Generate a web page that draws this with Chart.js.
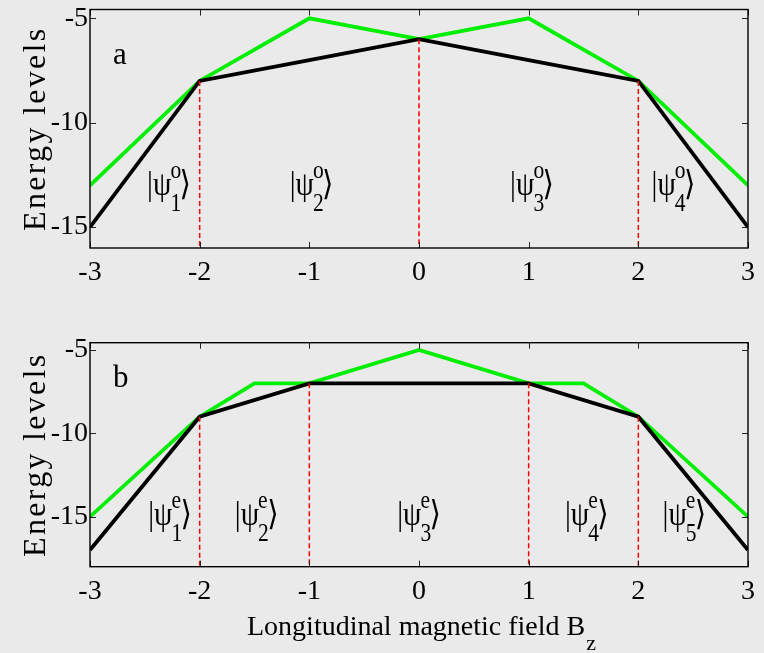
<!DOCTYPE html>
<html><head><meta charset="utf-8">
<script src="https://cdn.jsdelivr.net/npm/chart.js@4.4.1/dist/chart.umd.min.js"></script>
<style>
html,body{margin:0;padding:0;background:#eaeaea;}
#wrap{position:relative;width:764px;height:653px;overflow:hidden;background:#eaeaea;}
canvas{position:absolute;left:0;}
#ca{top:0;} #cb{top:320px;}
</style></head><body>
<div id="wrap">
<canvas id="ca" width="764" height="320"></canvas>
<canvas id="cb" width="764" height="333"></canvas>
</div>
<script>
// ---- data ----
const xTicks = [-3, -2, -1, 0, 1, 2, 3];
const yTicks = [-5, -10, -15];

// panel a (odd states)
const aX = [-3, -2, -1, 0, 1, 2, 3];
const aBlack = [-15, -8, -7, -6, -7, -8, -15];
const aGreen = [-13, -8, -5, -6, -5, -8, -13];
const aBoundX = [-2, 0, 2];
const aBoundTop = [-8, -6, -8];
const aStateX = [-2.28, -0.98, 1.03, 2.32];
const aStateSub = ['1', '2', '3', '4'];
const aStateSup = 'o';
const aStateY = -13.45;

// panel b (even states)
const bX = [-3, -2, -1, 0, 1, 2, 3];
const bBlack = [-17, -9, -7, -7, -7, -9, -17];
const bGreenX = [-3, -2, -1.5, -1, 0, 1, 1.5, 2, 3];
const bGreen = [-15, -9, -7, -7, -5, -7, -7, -9, -15];
const bBoundX = [-2, -1, 1, 2];
const bBoundTop = [-9, -7, -7, -9];
const bStateX = [-2.27, -1.48, 0, 1.53, 2.42];
const bStateSub = ['1', '2', '3', '4', '5'];
const bStateSup = 'e';
const bStateY = -15.5;

const SERIF = '"Liberation Serif", "DejaVu Serif", serif';

function pts(xs, ys) { return xs.map((x, i) => ({x: x, y: ys[i]})); }

function framePlugin() {
  return {
    id: 'frame',
    afterDatasetsDraw(chart) {
      const c = chart.ctx, a = chart.chartArea;
      const xs = chart.scales.x, ys = chart.scales.y;
      c.save();
      c.strokeStyle = '#222';
      c.lineWidth = 1;
      xTicks.forEach(v => {
        const px = Math.round(xs.getPixelForValue(v)) + 0.5;
        c.beginPath();
        c.moveTo(px, a.top); c.lineTo(px, a.top + 6);
        c.moveTo(px, a.bottom); c.lineTo(px, a.bottom - 6);
        c.stroke();
      });
      yTicks.forEach(v => {
        const py = Math.round(ys.getPixelForValue(v)) + 0.5;
        c.beginPath();
        c.moveTo(a.left, py); c.lineTo(a.left + 6, py);
        c.moveTo(a.right, py); c.lineTo(a.right - 6, py);
        c.stroke();
      });
      c.strokeStyle = '#000';
      c.lineWidth = 1.4;
      c.strokeRect(a.left, a.top, a.right - a.left, a.bottom - a.top);
      c.restore();
    }
  };
}

function textPlugin(p) {
  return {
    id: 'texts',
    afterDraw(chart) {
      const c = chart.ctx, a = chart.chartArea;
      const xs = chart.scales.x, ys = chart.scales.y;
      c.save();
      c.fillStyle = '#000';
      c.textBaseline = 'alphabetic';
      // panel letter
      c.font = '31px ' + SERIF;
      c.textAlign = 'left';
      c.fillText(p.letter, xs.getPixelForValue(-2.79), ys.getPixelForValue(-7.2));
      // state labels
      const big = '34px ' + SERIF, small = '25px ' + SERIF, sx0 = 0.86;
      p.stateX.forEach((sx, i) => {
        c.font = big;
        const w1 = c.measureText('|\u03C8').width;
        c.font = small;
        const w2 = Math.max(c.measureText(p.sub[i]).width, c.measureText(p.sup).width);
        c.font = big;
        const w3 = c.measureText('\u27E9').width;
        const total = (w1 + w2 + w3 - 3) * sx0;
        const cx = xs.getPixelForValue(sx) - total / 2;
        const yb = ys.getPixelForValue(p.stateY);
        c.save();
        c.translate(cx, yb);
        c.scale(sx0, 1);
        c.font = big;
        c.fillText('|\u03C8', 0, 0);
        c.font = small;
        c.fillText(p.sup, w1 - 1, -17);
        c.fillText(p.sub[i], w1 - 1, 16);
        c.font = big;
        c.fillText('\u27E9', w1 + w2 - 3, 0);
        c.restore();
      });
      // y title
      c.save();
      c.font = '32px ' + SERIF;
      c.letterSpacing = '2.3px';
      c.translate(44.5, (a.top + a.bottom) / 2);
      c.rotate(-Math.PI / 2);
      c.textAlign = 'center';
      c.fillText('Energy levels', 0, 0);
      c.restore();
      // x title
      if (p.xTitle) {
        c.font = '28px ' + SERIF;
        c.textAlign = 'left';
        const t = 'Longitudinal magnetic field B';
        const tx = 247, ty = 315;
        c.fillText(t, tx, ty);
        const w = c.measureText(t).width;
        c.font = '22px ' + SERIF;
        c.fillText('z', tx + w + 1, ty + 15);
      }
      c.restore();
    }
  };
}

function makePanel(id, p) {
  const datasets = [
    {data: pts(p.x, p.black), borderColor: '#000000', borderWidth: 3.8, order: 1},
    {data: pts(p.gx, p.green), borderColor: '#00ee00', borderWidth: 3.8, order: 2}
  ];
  p.boundX.forEach((bx, i) => {
    datasets.push({data: [{x: bx, y: p.boundTop[i]}, {x: bx, y: p.ymin}],
      borderColor: '#ff0000', borderWidth: 1.5, borderDash: [5, 3], order: 0});
  });
  datasets.forEach(d => { d.pointRadius = 0; d.fill = false; d.tension = 0; d.borderCapStyle = 'butt'; d.borderJoinStyle = 'miter'; });
  return new Chart(document.getElementById(id), {
    type: 'line',
    data: {datasets: datasets},
    options: {
      responsive: false, animation: false, devicePixelRatio: 1,
      layout: {padding: {left: 0, right: 16, top: p.top, bottom: 0}},
      plugins: {legend: {display: false}, tooltip: {enabled: false}, title: {display: false}},
      scales: {
        x: {
          type: 'linear', min: -3, max: 3,
          afterBuildTicks: s => { s.ticks = xTicks.map(v => ({value: v})); },
          afterFit: s => { s.height = p.xh; s.paddingLeft = 0; s.paddingRight = 0; },
          grid: {display: true, drawOnChartArea: false, drawTicks: false},
          border: {display: false},
          ticks: {font: {family: SERIF, size: 28}, color: '#000', padding: 8, maxRotation: 0, autoSkip: false}
        },
        y: {
          type: 'linear', min: p.ymin, max: p.ymax,
          afterBuildTicks: s => { s.ticks = yTicks.map(v => ({value: v})); },
          afterFit: s => { s.width = 90; s.paddingTop = 0; s.paddingBottom = 0; },
          grid: {display: true, drawOnChartArea: false, drawTicks: false},
          border: {display: false},
          ticks: {font: {family: SERIF, size: 28}, color: '#000', padding: 2}
        }
      }
    },
    plugins: [framePlugin(), textPlugin(p)]
  });
}

makePanel('ca', {x: aX, black: aBlack, gx: aX, green: aGreen, boundX: aBoundX, boundTop: aBoundTop,
  ymin: -16, ymax: -4.58, top: 9.5, xh: 72, letter: 'a',
  stateX: aStateX, sub: aStateSub, sup: aStateSup, stateY: aStateY, xTitle: false});
makePanel('cb', {x: bX, black: bBlack, gx: bGreenX, green: bGreen, boundX: bBoundX, boundTop: bBoundTop,
  ymin: -18, ymax: -4.56, top: 22.7, xh: 86.3, letter: 'b',
  stateX: bStateX, sub: bStateSub, sup: bStateSup, stateY: bStateY, xTitle: true});
</script>
</body></html>
